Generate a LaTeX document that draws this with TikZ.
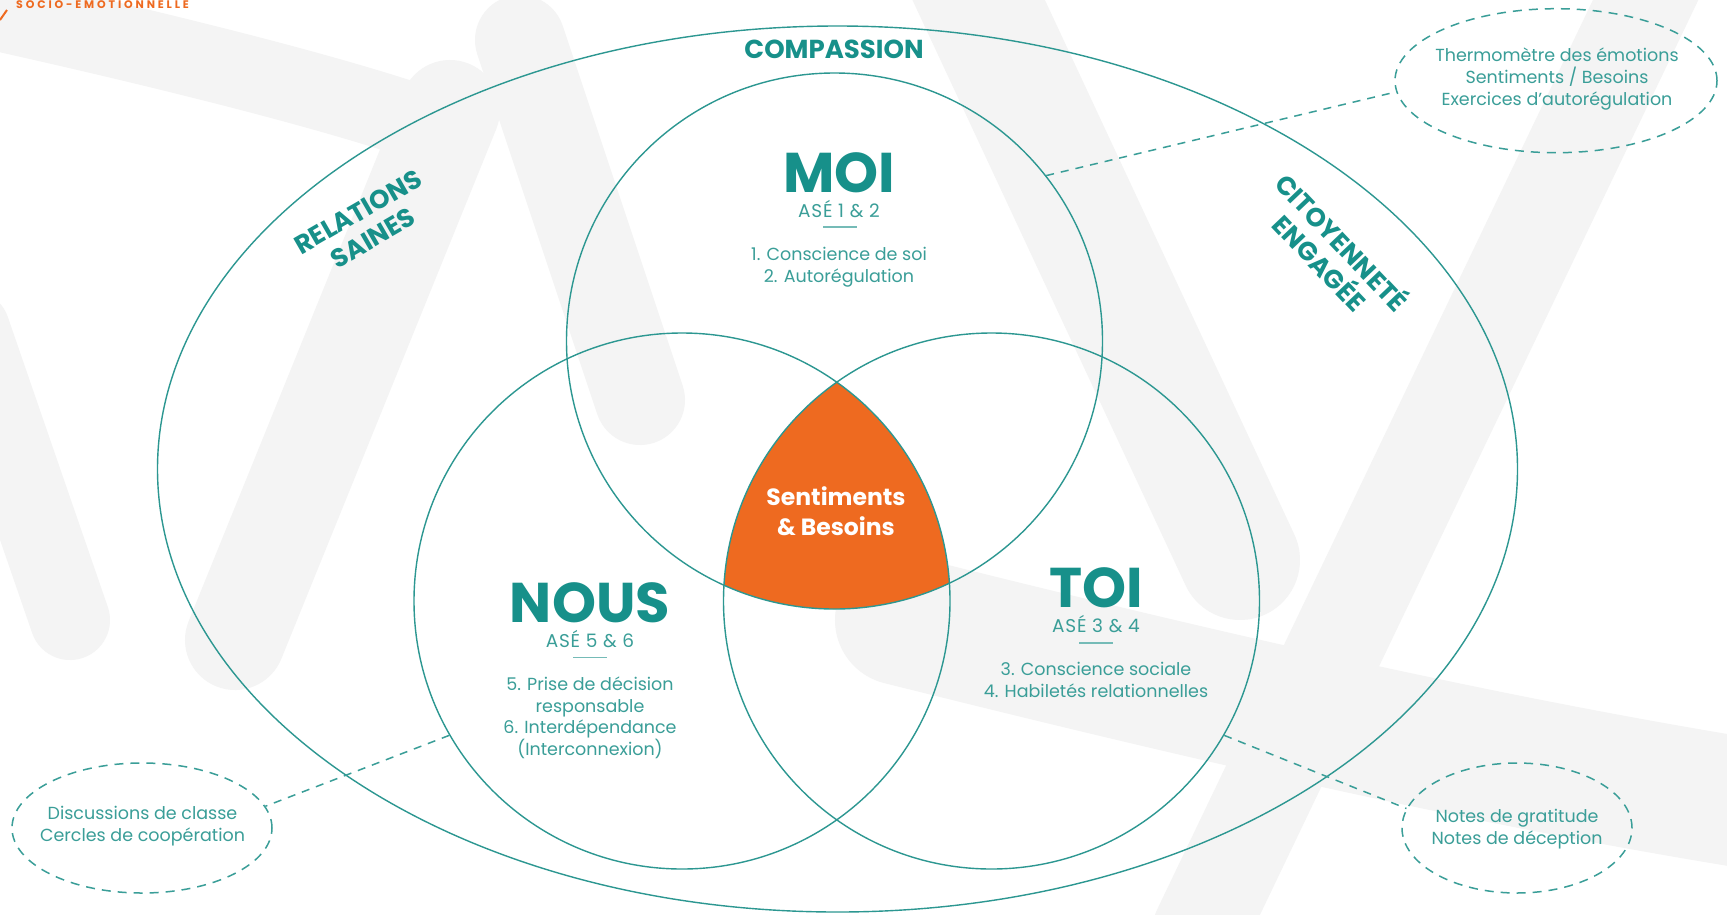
\documentclass[tikz,border=0pt]{standalone}
\usepackage{fontspec}
\setmainfont{Poppins}
\newfontfamily\lightf{Poppins}
\newfontfamily\asef{Poppins}[LetterSpace=4]
\newfontfamily\spacedf{Poppins}[LetterSpace=26]
\usetikzlibrary{shapes.geometric}
\definecolor{tealtext}{HTML}{17908A}
\definecolor{tealline}{HTML}{2C9791}
\definecolor{tealsoft}{HTML}{3A9E98}
\definecolor{orangefill}{HTML}{EE6A20}
\definecolor{bggray}{HTML}{F4F4F4}
\begin{document}
\begin{tikzpicture}[x=1pt,y=-1pt,
  ring/.style={circle,draw=tealline,line width=1.4pt,inner sep=0pt},
  callout/.style={ellipse,draw=tealsoft,line width=1.5pt,dash pattern=on 9pt off 7pt,inner sep=0pt},
  leader/.style={draw=tealsoft,line width=1.5pt,dash pattern=on 8pt off 7pt},
  title/.style={font=\bfseries\fontsize{56}{56}\selectfont,text=tealtext,inner sep=0pt},
  ase/.style={font=\asef\fontsize{18.5}{20}\selectfont,text=tealsoft,inner sep=0pt},
  body/.style={font=\lightf\fontsize{17.5}{21.7}\selectfont,text=tealsoft,align=center,inner sep=0pt},
  caps/.style={font=\bfseries\fontsize{26}{30}\selectfont,text=tealtext,align=center,inner sep=0pt},
  bar/.style={draw=tealsoft!70,line width=1.6pt},
  swoosh/.style={draw=bggray,line cap=round,line join=round}
]
\useasboundingbox (0,0) rectangle (1727,914);
\fill[white] (0,0) rectangle (1727,914);

% soft background swooshes
\begin{scope}
  \clip (0,0) rectangle (1727,914);
  \draw[swoosh,line width=75] (-40,5) .. controls (120,40) and (330,90) .. (440,130);
  \draw[swoosh,line width=100] (450,110) -- (235,640);
  \draw[swoosh,line width=90] (520,40) -- (640,400);
  \draw[swoosh,line width=80] (-30,330) -- (70,620);
  \draw[swoosh,line width=120] (960,-40) -- (1240,560);
  \draw[swoosh,line width=95] (1660,-30) -- (1200,930);
  \draw[swoosh,line width=130] (900,620) .. controls (1200,695) and (1500,765) .. (1790,810);
\end{scope}

% header
\node[font=\spacedf\bfseries\fontsize{11}{11}\selectfont,text=orangefill,anchor=base west,inner sep=0pt] (header) at (16,8.5) {SOCIO-ÉMOTIONNELLE};
\draw[orangefill,line width=2pt] (0,20) -- (7,10);

% outer ellipse and the three circles
\node[ellipse,draw=tealline,line width=1.4pt,inner sep=0pt,minimum width=1360pt,minimum height=886pt] (outer) at (837.5,469) {};
\coordinate (cm) at (834.5,341);
\coordinate (cn) at (682,601);
\coordinate (ct) at (991.5,601);

% central overlap
\begin{scope}
  \clip (cm) circle[radius=268pt];
  \clip (cn) circle[radius=268pt];
  \fill[orangefill] (ct) circle[radius=268pt];
\end{scope}

\node[ring,minimum size=536pt] (moi) at (cm) {};
\node[ring,minimum size=536pt] (nous) at (cn) {};
\node[ring,minimum size=536pt] (toi) at (ct) {};

% labels on the outer ring
\node[caps,anchor=base] (compassion) at (834,58) {COMPASSION};
\node[caps,rotate=30] (relations) at (365.5,225) {RELATIONS\\SAINES};
\node[caps,rotate=-46.5] (citoyen) at (1332.5,251) {CITOYENNETÉ\\ENGAGÉE};

% MOI
\node[title,anchor=base] (moiT) at (839,192) {MOI};
\node[ase,anchor=base] (moiA) at (839,217) {ASÉ 1 \& 2};
\draw[bar] (823,227) -- (857,227);
\node[body] (moiL) at (839,267) {1. Conscience de soi\\2. Autorégulation};

% NOUS
\node[title,anchor=base] (nousT) at (590,622.6) {NOUS};
\node[ase,anchor=base] (nousA) at (590,647) {ASÉ 5 \& 6};
\draw[bar] (573,657.6) -- (607,657.6);
\node[body] (nousL) at (590,717.7) {5. Prise de décision\\responsable\\6. Interdépendance\\(Interconnexion)};

% TOI
\node[title,anchor=base] (toiT) at (1096,607.6) {TOI};
\node[ase,anchor=base] (toiA) at (1096,632.6) {ASÉ 3 \& 4};
\draw[bar] (1079,643) -- (1113,643);
\node[body] (toiL) at (1096,679.7) {3. Conscience sociale\\4. Habiletés relationnelles};

% centre
\node[font=\bfseries\fontsize{23.5}{30}\selectfont,text=white,align=center,inner sep=0pt] (centre) at (836,511.5) {Sentiments\\\& Besoins};

% dashed callouts
\node[callout,minimum width=322pt,minimum height=144pt] (thermo) at (1556,80.7) {};
\node[body] (thermoT) at (1557,79) {Thermomètre des émotions\\Sentiments / Besoins\\Exercices d’autorégulation};
\node[callout,minimum width=260pt,minimum height=130pt] (disc) at (142,828) {};
\node[body] (discT) at (142.5,826) {Discussions de classe\\Cercles de coopération};
\node[callout,minimum width=230pt,minimum height=130pt] (notes) at (1517,828) {};
\node[body] (notesT) at (1517,829) {Notes de gratitude\\Notes de déception};

\draw[leader] (moi.38) -- (thermo.184);
\draw[leader] (nous.210) -- (disc.10);
\draw[leader] (toi.330) -- (notes.170);
\end{tikzpicture}
\end{document}
